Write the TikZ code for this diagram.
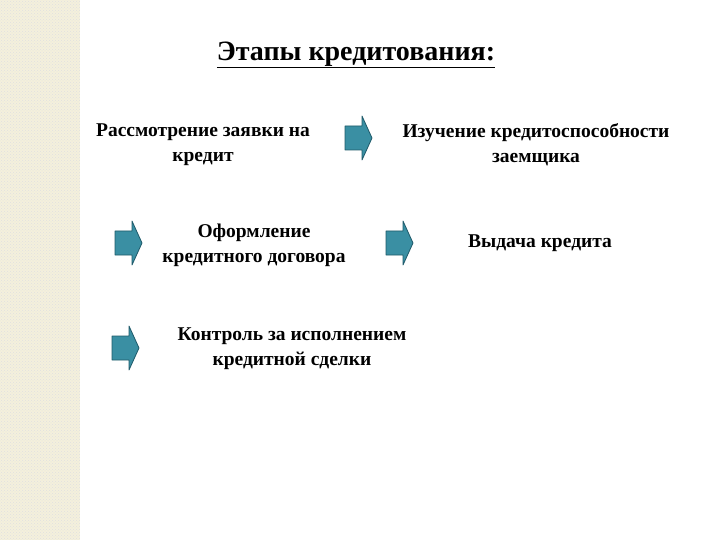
\documentclass[tikz,border=0pt]{standalone}
\usepackage{fontspec}
\setmainfont{Liberation Serif}
\usetikzlibrary{patterns}
\definecolor{teal1}{HTML}{3A8FA3}
\definecolor{tealD}{HTML}{1F5A6A}
\definecolor{stripe}{HTML}{F4F0DC}
\tikzset{
  lbl/.style={font=\bfseries\fontsize{19.5}{25}\selectfont, align=center},
  arr/.pic={\draw[tealD, fill=teal1, line width=0.8pt, line join=round]
     (-13,-12) -- (4,-12) -- (4,-22) -- (14,0) -- (4,22) -- (4,12) -- (-13,12) -- cycle;}
}
\begin{document}
\begin{tikzpicture}[x=1pt,y=-1pt]
\useasboundingbox (0,0) rectangle (720,540);
\fill[stripe] (0,0) rectangle (80,540);
\fill[pattern=crosshatch dots, pattern color=black!12] (0,0) rectangle (80,540);
\node[font=\bfseries\fontsize{28}{32}\selectfont] (title) at (356,55) {\underline{Этапы кредитования:}};
\node[lbl] (s1) at (203,145) {Рассмотрение заявки на\\кредит};
\node[lbl] (s2) at (536,145) {Изучение кредитоспособности\\заемщика};
\node[lbl] (s3) at (254,245) {Оформление\\кредитного договора};
\node[lbl] (s4) at (540,243) {Выдача кредита};
\node[lbl] (s5) at (292,349) {Контроль за исполнением\\кредитной сделки};
\pic (a1) at (358,138) {arr};
\pic (a2) at (128,243) {arr};
\pic (a3) at (399,243) {arr};
\pic (a4) at (125,348) {arr};
\end{tikzpicture}
\end{document}
